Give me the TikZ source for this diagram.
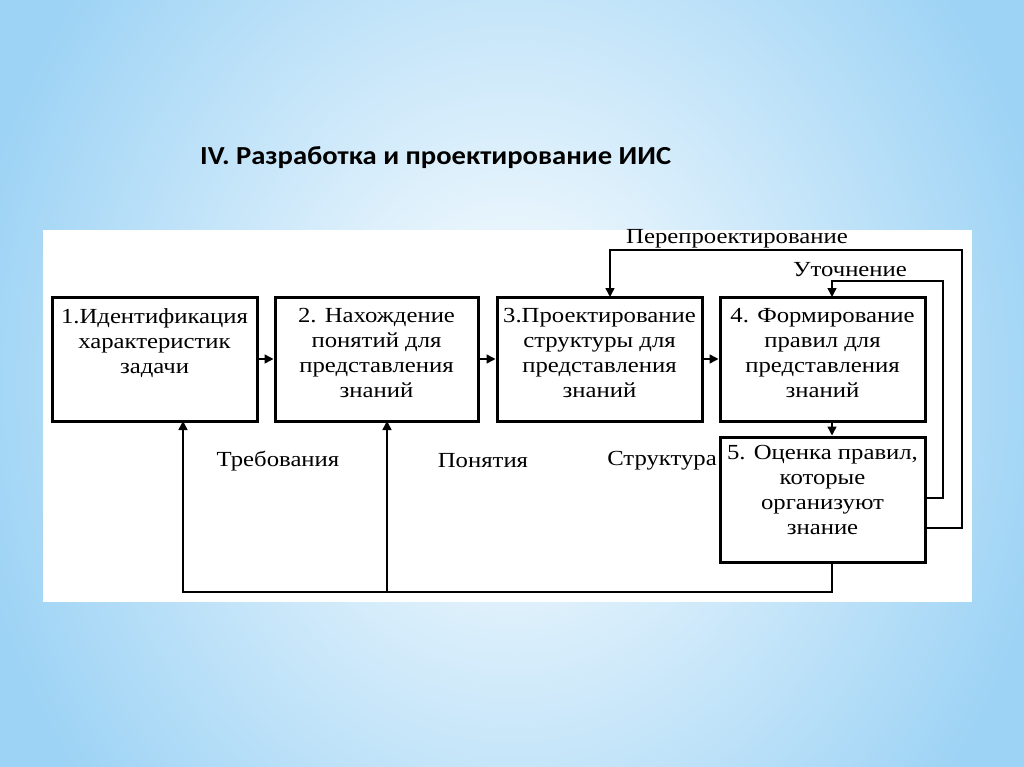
\documentclass[tikz,border=0pt]{standalone}
\usepackage{fontspec}
\setmainfont{Liberation Serif}[FakeStretch=1.15]
\newfontfamily\titlefont{Carlito}[FakeStretch=1.1]
\usetikzlibrary{arrows.meta}
\definecolor{bgblue}{HTML}{9DD3F5}
\tikzset{
  stepbox/.style={draw=black, line width=3pt, minimum width=205pt, minimum height=124pt, inner sep=0pt},
  boxtext/.style={anchor=north, align=center, font=\fontsize{21.5}{25}\selectfont, inner sep=0pt},
  lbl/.style={font=\fontsize{21.5}{25}\selectfont, inner sep=0pt},
  conn/.style={line width=1.5pt, draw=black},
  arr/.style={conn, -{Triangle[length=9pt,width=9pt]}}
}
\begin{document}
\begin{tikzpicture}[x=1pt,y=-1pt]
\useasboundingbox (0,0) rectangle (1024,767);
\shade[inner color=white, outer color=bgblue] (-40,-260) rectangle (1064,1027);
\fill[white] (43,230) rectangle (972,602);
\node[font=\titlefont\bfseries\fontsize{26}{30}\selectfont, anchor=west, inner sep=0pt] (title) at (200,158) {IV. Разработка и проектирование ИИС};

\node[stepbox] (b1) at (154.5,359) {};
\node[stepbox, minimum width=203pt] (b2) at (376.5,359) {};
\node[stepbox] (b3) at (599.5,359) {};
\node[stepbox] (b4) at (822.5,359) {};
\node[stepbox, minimum height=125pt] (b5) at (822.5,499.5) {};

\node[boxtext] (t1) at ([yshift=-13pt]b1.north) {1.Идентификация\\характеристик\\задачи};
\node[boxtext] (t2) at ([yshift=-13pt]b2.north) {2. Нахождение\\понятий для\\представления\\знаний};
\node[boxtext] (t3) at ([yshift=-13pt]b3.north) {3.Проектирование\\структуры для\\представления\\знаний};
\node[boxtext] (t4) at ([yshift=-13pt]b4.north) {4. Формирование\\правил для\\представления\\знаний};
\node[boxtext] (t5) at ([yshift=-10pt]b5.north) {5. Оценка правил,\\которые\\организуют\\знание};

\draw[arr] (b1.east) -- (b2.west);
\draw[arr] (b2.east) -- (b3.west);
\draw[arr] (b3.east) -- (b4.west);
\draw[arr] ([xshift=9.5pt]b4.south) -- ([xshift=9.5pt]b5.north);

\node[lbl] (lp) at (737,239) {Перепроектирование};
\node[lbl] (lu) at (850,270) {Уточнение};
\node[lbl] (lt) at (278,461) {Требования};
\node[lbl] (lc) at (483,461) {Понятия};
\node[lbl, anchor=east] (ls) at (717,461) {Структура};

\coordinate (p1) at (962,528);
\coordinate (p2) at (943,498);
\draw[arr] (b5.east |- p1) -- (p1) -- (962,250) -- (610,250) -- (610,297);
\draw[arr] (b5.east |- p2) -- (p2) -- (943,281) -- (832,281) -- (832,297);

\coordinate (q1) at (832,592);
\draw[arr] ([xshift=9.5pt]b5.south) -- (q1) -- (183,592) -- (183,421);
\draw[arr] (387,592) -- (387,421);
\end{tikzpicture}
\end{document}
